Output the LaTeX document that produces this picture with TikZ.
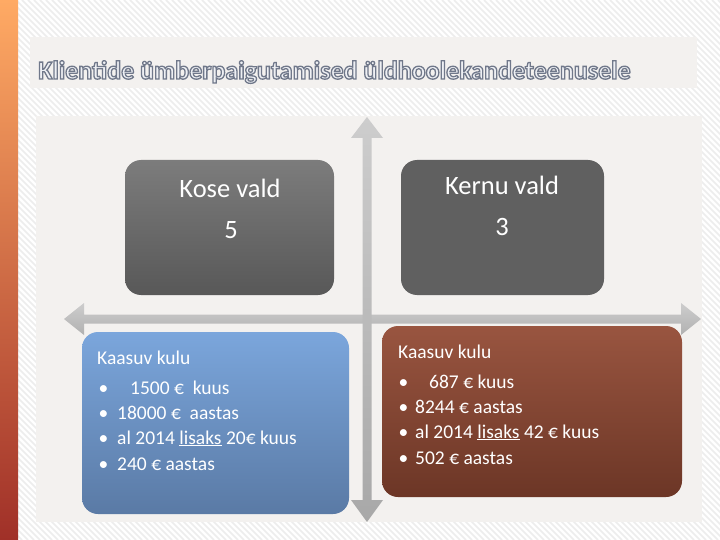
\documentclass[tikz,border=0pt]{standalone}
\usepackage{fontspec}
\setmainfont{Carlito}
\usetikzlibrary{calc}
\definecolor{panel}{HTML}{F3F1EF}
\definecolor{stripec}{HTML}{EDEDED}
\definecolor{arrowtop}{HTML}{CDCDCD}
\definecolor{arrowbot}{HTML}{A8A8A8}
\definecolor{tfill}{HTML}{EEF0F4}
\newcommand{\outlinetext}[1]{\special{pdf:literal direct 2 Tr 1.3 w 0.44 0.47 0.54 RG}#1\special{pdf:literal direct 0 Tr}}
\tikzset{
  box/.style={rounded corners=16pt, inner sep=0pt, draw=none},
  boxtitle/.style={text=white, font=\fontsize{26.5}{30}\selectfont, anchor=base},
  line/.style={text=white, font=\fontsize{19.5}{23}\selectfont, anchor=base west, inner sep=0pt},
  titletext/.style={font=\fontsize{26}{30}\selectfont\bfseries, anchor=base west, inner sep=0pt},
}
\begin{document}
\begin{tikzpicture}[x=1pt,y=-1pt]
\useasboundingbox (0,0) rectangle (720,540);
% background
\fill[white] (0,0) rectangle (720,540);
\begin{scope}
\clip (0,0) rectangle (720,540);
\foreach \i in {-560,-554,...,720} \draw[stripec, line width=1.6pt] (\i,0) -- (\i+540,540);
\end{scope}
% left bar
\shade[top color={rgb,255:red,255;green,170;blue,100}, middle color={rgb,255:red,255;green,122;blue,16}, bottom color={rgb,255:red,160;green,48;blue,40}] (0,0) rectangle (18,540);
% title band
\fill[panel] (30,37) rectangle (697,88);
\node[titletext, text=tfill] (title) at (38,79) {\outlinetext{Klientide ümberpaigutamised üldhoolekandeteenusele}};
% main panel
\fill[panel] (36,116) rectangle (702,522);
% horizontal arrow
\shade[top color=arrowtop, bottom color=arrowbot!90!white] (64,319) -- (84,303) -- (84,314.5) -- (681,314.5) -- (681,303) -- (701,319) -- (681,335) -- (681,323.5) -- (84,323.5) -- (84,335) -- cycle;
% vertical arrow
\shade[top color=arrowtop, bottom color=arrowbot] (367,117) -- (383,138) -- (371.5,138) -- (371.5,500) -- (383,500) -- (367,522) -- (351,500) -- (362.5,500) -- (362.5,138) -- (351,138) -- cycle;
% boxes
\node[box, minimum width=209pt, minimum height=135pt, top color={rgb,255:red,124;green,124;blue,124}, bottom color={rgb,255:red,88;green,88;blue,88}] (kose) at (229.5,227.5) {};
\node[box, minimum width=203pt, minimum height=135pt, fill={rgb,255:red,96;green,96;blue,96}] (kernu) at (502.5,227.5) {};
\node[box, minimum width=267pt, minimum height=182pt, top color={rgb,255:red,123;green,166;blue,220}, bottom color={rgb,255:red,90;green,122;blue,165}] (kosecost) at (215.5,423) {};
\node[box, minimum width=300pt, minimum height=171pt, top color={rgb,255:red,153;green,85;blue,64}, bottom color={rgb,255:red,108;green,54;blue,38}] (kernucost) at (532,411.5) {};
% box texts
\node[boxtitle] (kosename) at (230,198) {Kose vald};
\node[boxtitle] (kosenum) at (231,239) {5};
\node[boxtitle] (kernuname) at (502,195) {Kernu vald};
\node[boxtitle] (kernunum) at (502,236) {3};
% left cost text
\node[line] (l0) at (97,364) {Kaasuv kulu};
\foreach \y/\t [count=\k] in {394/{\hspace{13pt}1500 €\ \ kuus},419/{18000 €\ \ aastas},444/{al 2014 \underline{lisaks} 20€ kuus},470/{240 € aastas}} {
  \node[line] (lb\k) at (98.5,\y) {•};
  \node[line] (lt\k) at (117,\y) {\t};
}
% right cost text
\node[line] (r0) at (398,358) {Kaasuv kulu};
\foreach \y/\t [count=\k] in {388/{\hspace{14pt}687 € kuus},413/{8244 € aastas},438/{al 2014 \underline{lisaks} 42 € kuus},464/{502 € aastas}} {
  \node[line] (rb\k) at (398.5,\y) {•};
  \node[line] (rt\k) at (415,\y) {\t};
}
\end{tikzpicture}
\end{document}
